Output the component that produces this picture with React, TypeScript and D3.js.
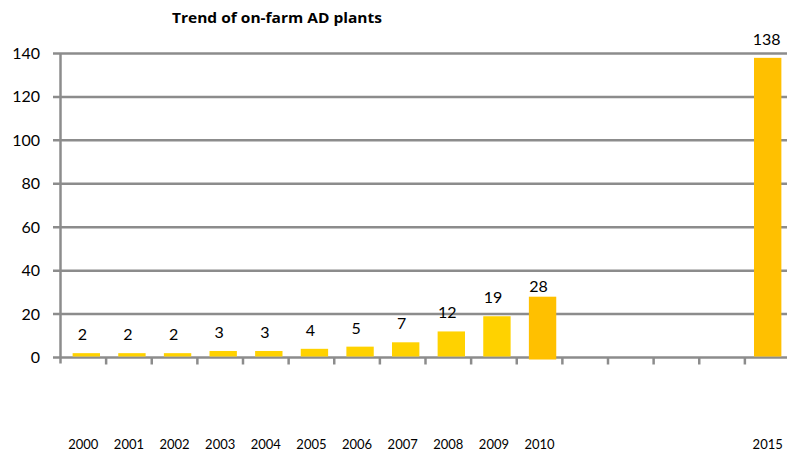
import { scaleBand, scaleLinear } from "d3";

const years = [
  "2000", "2001", "2002", "2003", "2004", "2005", "2006", "2007",
  "2008", "2009", "2010", "2011", "2012", "2013", "2014", "2015",
];
// null = no data for that year
const plants: (number | null)[] = [2, 2, 2, 3, 3, 4, 5, 7, 12, 19, 28, null, null, null, null, 138];
const highlighted = ["2010", "2015"];
const yTicks = [0, 20, 40, 60, 80, 100, 120, 140];
const title = "Trend of on-farm AD plants";

const W = 787;
const H = 454;
const font = "Lato, 'Open Sans', sans-serif";

export default function App() {
  const x = scaleBand<string>().domain(years).range([60.5, 790.5]).paddingInner(0.4).paddingOuter(0.2);
  const y = scaleLinear().domain([0, 140]).range([357.5, 53.5]);
  const step = x.step();
  const x0 = 60.5;

  const gold = "#FFD200";
  const dark = "#FFC000";
  const grid = "#8C8C8C";

  return (
    <svg width={W} height={H} style={{ position: "absolute", left: 0, top: 0, background: "#fff" }}>
      <text
        x={172}
        y={22.5}
        fontFamily="'Open Sans', Lato, sans-serif"
        fontWeight="bold"
        fontSize={15}
        textLength={210}
        lengthAdjust="spacingAndGlyphs"
        fill="#000"
      >
        {title}
      </text>

      {/* gridlines + y labels */}
      {yTicks.map((t) => (
        <g key={t}>
          <line x1={53} x2={W} y1={y(t)} y2={y(t)} stroke={grid} strokeWidth={2.5} />
          <text x={40} y={y(t) + 5.5} textAnchor="end" fontFamily={font} fontSize={16} fill="#000">
            {t}
          </text>
        </g>
      ))}

      {/* y axis */}
      <line x1={x0} x2={x0} y1={y(140)} y2={y(0) + 6} stroke={grid} strokeWidth={2.5} />

      {/* x tick marks on band boundaries */}
      {years.map((yr, i) => (
        <line
          key={"t" + yr}
          x1={x0 + (i + 1) * step}
          x2={x0 + (i + 1) * step}
          y1={y(0)}
          y2={y(0) + 7}
          stroke={grid}
          strokeWidth={2.5}
        />
      ))}

      {/* bars */}
      {years.map((yr, i) => {
        const v = plants[i];
        if (v == null) return null;
        const hi = highlighted.includes(yr);
        const top = y(v);
        const bottom = yr === "2010" ? y(0) + 2 : y(0) - 1;
        const shift = yr === "2015" ? 0 : 3;
        return (
          <rect
            key={"b" + yr}
            x={x(yr)! + shift}
            y={top}
            width={x.bandwidth()}
            height={bottom - top}
            fill={hi ? dark : gold}
          />
        );
      })}

      {/* value labels */}
      {years.map((yr, i) => {
        const v = plants[i];
        if (v == null) return null;
        const gap = yr === "2010" ? 5 : 13;
        return (
          <text
            key={"v" + yr}
            x={x(yr)! + x.bandwidth() / 2 - 1}
            y={y(v) - gap}
            textAnchor="middle"
            fontFamily={font}
            fontSize={16}
            fill="#000"
          >
            {v}
          </text>
        );
      })}

      {/* x labels, only for years with data */}
      {years.map((yr, i) =>
        plants[i] == null ? null : (
          <text
            key={"x" + yr}
            x={x(yr)! + x.bandwidth() / 2}
            y={448.5}
            textAnchor="middle"
            fontFamily={font}
            fontSize={13}
            fill="#000"
          >
            {yr}
          </text>
        )
      )}
    </svg>
  );
}
